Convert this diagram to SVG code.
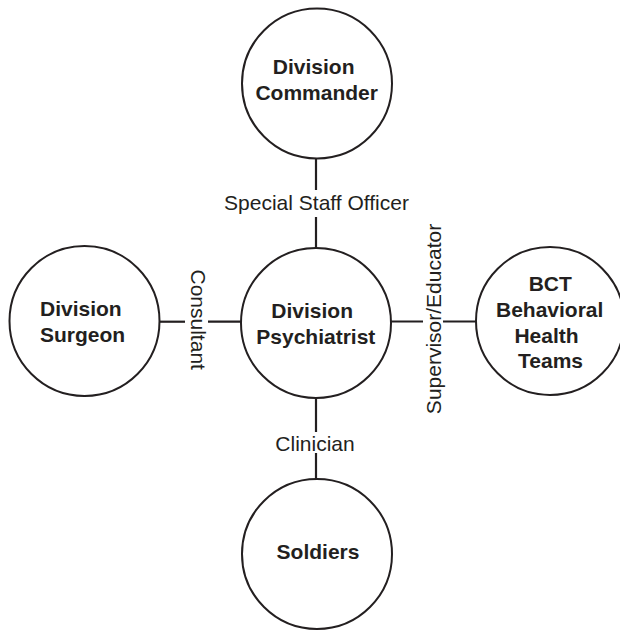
<svg xmlns="http://www.w3.org/2000/svg" width="620" height="630" viewBox="0 0 620 630">
  <style>
    .node circle { fill: #ffffff; stroke: #231f20; stroke-width: 2; }
    .node text { font-family: "Liberation Sans", Arial, sans-serif; font-weight: bold; font-size: 21px; fill: #231f20; }
    .links line { stroke: #231f20; stroke-width: 2.2; }
    .links text { font-family: "Liberation Sans", Arial, sans-serif; font-size: 21px; fill: #231f20; }
  </style>
  <rect width="620" height="630" fill="#ffffff"/>

  <!-- connectors with their role labels -->
  <g id="connectors" class="links">
    <line x1="316" y1="158" x2="316" y2="190"/>
    <line x1="316" y1="217" x2="316" y2="249"/>
    <text x="316.5" y="210" text-anchor="middle">Special Staff Officer</text>

    <line x1="316" y1="397" x2="316" y2="432"/>
    <line x1="316" y1="453" x2="316" y2="480"/>
    <text x="315" y="450.5" text-anchor="middle">Clinician</text>

    <line x1="159" y1="321.7" x2="185" y2="321.7"/>
    <line x1="208" y1="321.7" x2="242" y2="321.7"/>
    <text transform="translate(190.5 319.7) rotate(90)" text-anchor="middle">Consultant</text>

    <line x1="390" y1="321.5" x2="423" y2="321.5"/>
    <line x1="443" y1="321.5" x2="477" y2="321.5"/>
    <text transform="translate(440.7 319) rotate(-90)" text-anchor="middle">Supervisor/Educator</text>
  </g>

  <g id="division-commander" class="node">
    <circle cx="317" cy="83.5" r="75"/>
    <text x="313.7" y="73.5" text-anchor="middle">Division</text>
    <text x="316.7" y="99.5" text-anchor="middle">Commander</text>
  </g>

  <g id="division-surgeon" class="node">
    <circle cx="84.5" cy="321" r="75"/>
    <text x="40" y="316">Division</text>
    <text x="40" y="341.7">Surgeon</text>
  </g>

  <g id="division-psychiatrist" class="node">
    <circle cx="316" cy="323" r="75"/>
    <text x="312.2" y="318.3" text-anchor="middle">Division</text>
    <text x="315.8" y="344.3" text-anchor="middle">Psychiatrist</text>
  </g>

  <g id="bct-behavioral-health-teams" class="node">
    <circle cx="550" cy="321" r="74"/>
    <text x="550.3" y="291" text-anchor="middle">BCT</text>
    <text x="549.7" y="317.3" text-anchor="middle">Behavioral</text>
    <text x="546.5" y="342.7" text-anchor="middle">Health</text>
    <text x="550.5" y="367.7" text-anchor="middle">Teams</text>
  </g>

  <g id="soldiers" class="node">
    <circle cx="317" cy="554" r="75"/>
    <text x="318" y="559.3" text-anchor="middle">Soldiers</text>
  </g>
</svg>
